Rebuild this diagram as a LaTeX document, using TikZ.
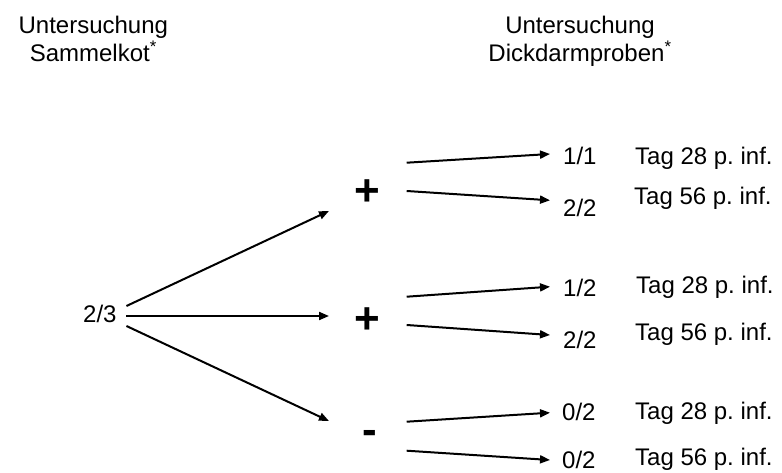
\documentclass[tikz,border=0pt]{standalone}
\usepackage{fontspec}
\setmainfont{Liberation Sans}
\usetikzlibrary{arrows.meta}
\frenchspacing
\begin{document}
\begin{tikzpicture}[x=1pt,y=-1pt,
  txt/.style={font=\fontsize{24}{28}\selectfont, inner sep=0pt},
  hdr/.style={txt, align=center, anchor=north},
  sign/.style={font=\fontsize{44}{44}\selectfont\bfseries, inner sep=0pt, anchor=base},
  arr/.style={line width=2pt, -{Triangle[length=10pt,width=8pt]}}]
\useasboundingbox (0,0) rectangle (782,473);
% headers
\node[hdr] (h1) at (93.3,16) {Untersuchung\\Sammelkot\textsuperscript{*}};
\node[hdr] (h2) at (580,16) {Untersuchung\\Dickdarmproben\textsuperscript{*}};
% source
\node[txt, anchor=base west] (r23) at (83,322) {2/3};
% signs
\node[sign] (p1) at (367.5,205.2) {+};
\node[sign] (p2) at (367.3,333.2) {+};
\node[sign] (m) at (370,444.7) {-};
% fractions
\node[txt, anchor=base west] (f1) at (563,165) {1/1};
\node[txt, anchor=base west] (f2) at (563,216.7) {2/2};
\node[txt, anchor=base west] (f3) at (563,296.7) {1/2};
\node[txt, anchor=base west] (f4) at (563,348) {2/2};
\node[txt, anchor=base west] (f5) at (562,420) {0/2};
\node[txt, anchor=base west] (f6) at (562,468) {0/2};
% days
\node[txt, anchor=base west] (t1) at (635,165) {Tag 28 p. inf.};
\node[txt, anchor=base west] (t2) at (634,205) {Tag 56 p. inf.};
\node[txt, anchor=base west] (t3) at (636,293) {Tag 28 p. inf.};
\node[txt, anchor=base west] (t4) at (635,340) {Tag 56 p. inf.};
\node[txt, anchor=base west] (t5) at (635,419) {Tag 28 p. inf.};
\node[txt, anchor=base west] (t6) at (635,465) {Tag 56 p. inf.};
% fan
\draw[arr] ([shift={(9.7,-16)}]r23.base east) -- ([shift={(-38.5,5.8)}]p1.base);
\draw[arr] ([shift={(9.7,-6)}]r23.base east) -- ([shift={(-38.3,-17.2)}]p2.base);
\draw[arr] ([shift={(9.7,4)}]r23.base east) -- ([shift={(-41,-23.7)}]m.base);
% group 1
\draw[arr] ([shift={(39.2,-42.5)}]p1.base) -- ([shift={(-13,-11)}]f1.base west);
\draw[arr] ([shift={(39.2,-14.2)}]p1.base) -- ([shift={(-13,-16.4)}]f2.base west);
% group 2
\draw[arr] ([shift={(39.4,-36.5)}]p2.base) -- ([shift={(-13,-10)}]f3.base west);
\draw[arr] ([shift={(39.4,-8.2)}]p2.base) -- ([shift={(-13,-13)}]f4.base west);
% group 3
\draw[arr] ([shift={(36.7,-23)}]m.base) -- ([shift={(-12,-7.3)}]f5.base west);
\draw[arr] ([shift={(36.7,6)}]m.base) -- ([shift={(-12,-8)}]f6.base west);
\end{tikzpicture}
\end{document}
